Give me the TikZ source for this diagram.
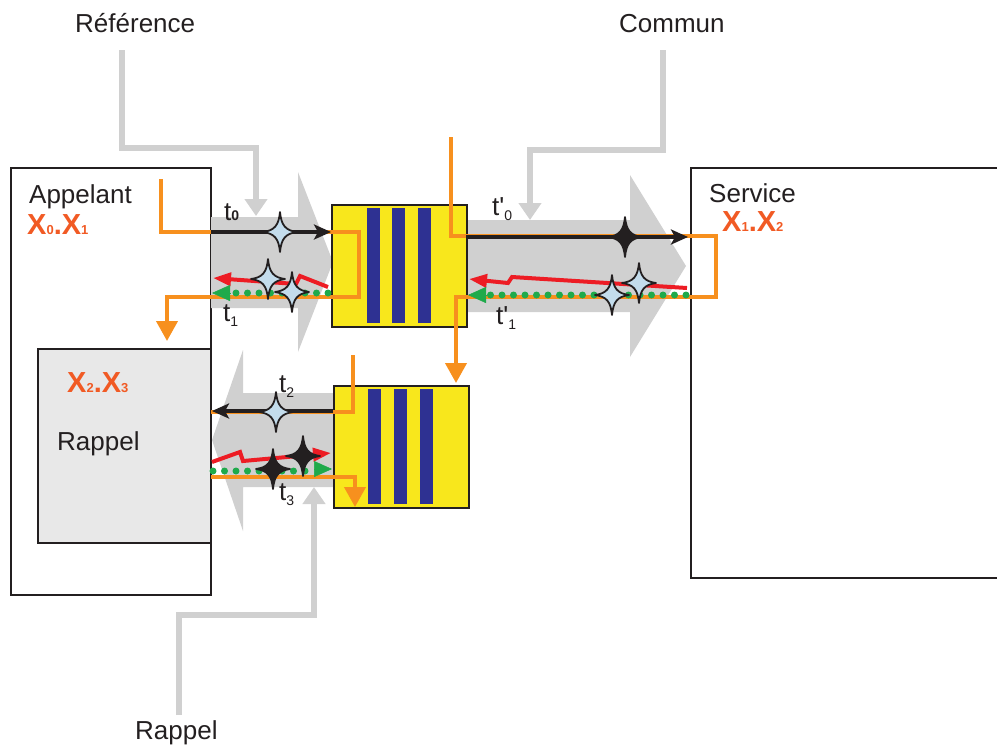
\documentclass[tikz,border=0pt]{standalone}
\usepackage{fontspec}
\setmainfont{Liberation Sans}
\usetikzlibrary{arrows.meta}
\definecolor{boxline}{HTML}{231F20}
\definecolor{orng}{HTML}{F7901E}
\definecolor{xorng}{HTML}{F15A24}
\definecolor{fatgray}{HTML}{D0D0D0}
\definecolor{innergray}{HTML}{E8E8E8}
\definecolor{ylw}{HTML}{F8E71C}
\definecolor{blu}{HTML}{2E3192}
\definecolor{grn}{HTML}{1FAA4B}
\definecolor{rd}{HTML}{ED1C24}
\definecolor{starblue}{HTML}{C3DCEC}
\tikzset{
  box/.style={draw=boxline, line width=1.8pt, inner sep=0pt, anchor=north west},
  ybox/.style={box, fill=ylw, minimum width=135pt, minimum height=122pt},
  fatarrow/.style={fill=fatgray, draw=none},
  routeline/.style={draw=fatgray, line width=6.5pt, -{Triangle[length=17pt,width=22pt]}},
  orangeline/.style={draw=orng, line width=4pt},
  orangearrow/.style={orangeline, -{Triangle[length=20pt,width=21pt]}},
  blackarrow/.style={draw=boxline, line width=3.2pt, -{Stealth[length=17pt,width=15pt,inset=4pt]}},
  greendots/.style={draw=grn, line width=7pt, line cap=round, dash pattern=on 0pt off 11.5pt},
  greentip/.style={draw=grn, fill=grn, line width=0.5pt, -{Triangle[length=18pt,width=16pt]}},
  redbolt/.style={draw=rd, line width=4pt, line join=miter, -{Triangle[length=18pt,width=13pt]}},
  lbl/.style={font=\fontsize{26}{30}\selectfont, inner sep=0pt, anchor=base west, text=boxline},
  xl/.style={font=\fontsize{29}{32}\selectfont\bfseries, inner sep=0pt, anchor=base west, text=xorng},
  tl/.style={font=\fontsize{26}{30}\selectfont, inner sep=0pt, anchor=base west, text=boxline},
  starline/.style={draw=boxline, line width=1.8pt, line join=round},
  sparkshape/.pic={
    \path[pic actions] (0,20) .. controls (1.3,6.5) and (5.5,1.6) .. (17,0)
      .. controls (5.5,-1.6) and (1.3,-6.5) .. (0,-20)
      .. controls (-1.3,-6.5) and (-5.5,-1.6) .. (-17,0)
      .. controls (-5.5,1.6) and (-1.3,6.5) .. (0,20) -- cycle;
  },
  lstar/.style={starline, fill=starblue},
  dstar/.style={starline, fill=boxline},
}
\newcommand{\subsmall}[1]{\raisebox{-5pt}{\fontsize{14}{14}\selectfont #1}}
\begin{document}
\begin{tikzpicture}[x=1pt,y=-1pt]
\useasboundingbox (0,0) rectangle (997,748);

% main boxes
\node[box, minimum width=200pt, minimum height=427pt] (app) at (10,167) {};
\node[box, minimum width=330pt, minimum height=410pt] (srv) at (690,167) {};
\node[box, fill=innergray, minimum width=173pt, minimum height=194pt] (rap) at (37,348) {};

% fat gray arrows
\fill[fatarrow] (211,217) -- (298,217) -- (298,172) -- (333,262) -- (298,352) -- (298,308) -- (211,308) -- cycle;
\fill[fatarrow] (466,220) -- (630,220) -- (630,175) -- (686,266) -- (630,357) -- (630,312) -- (466,312) -- cycle;
\fill[fatarrow] (334,393) -- (243,393) -- (243,350) -- (212,440) -- (243,531) -- (243,487) -- (334,487) -- cycle;

% gray routing lines
\coordinate (refs) at (122,50);
\coordinate (refe) at (256,216);
\coordinate (coms) at (663,50);
\coordinate (come) at (530,220);
\coordinate (raps) at (179,715);
\coordinate (rape) at (314,487);
\draw[routeline] (refs) |- (256,148) -- (refe);
\draw[routeline] (coms) |- (530,150) -- (come);
\draw[routeline] (raps) |- (314,615) -- (rape);

% yellow queue boxes
\node[ybox] (q1) at (331,204) {};
\node[ybox] (q2) at (333,385) {};
\fill[blu] (367,208) rectangle (380,323);
\fill[blu] (392,208) rectangle (405,323);
\fill[blu] (418,208) rectangle (431,323);
\fill[blu] (368,389) rectangle (381,504);
\fill[blu] (394,389) rectangle (407,504);
\fill[blu] (420,389) rectangle (433,504);

% orange flow lines
\coordinate (o1s) at (161,179);
\coordinate (o1e) at (167,341);
\coordinate (o2s) at (451,137);
\coordinate (o2e) at (456,383);
\coordinate (o3s) at (353,355);
\coordinate (o3e) at (211,412);
\coordinate (o4s) at (211,477);
\coordinate (o4e) at (355,507);
\draw[orangearrow] (o1s) -- (161,232) -- (359,232) -- (359,297) -- (167,297) -- (o1e);
\draw[orangearrow] (o2s) -- (451,236) -- (716,236) -- (716,297) -- (456,297) -- (o2e);
\draw[orangeline] (o3s) -- (353,412) -- (o3e);
\draw[orangearrow] (o4s) -- (355,477) -- (o4e);

% black message arrows
\coordinate (b0s) at (211,232);
\coordinate (b0e) at (331,232);
\coordinate (b1s) at (466,237);
\coordinate (b1e) at (688,237);
\coordinate (b2s) at (333,411);
\coordinate (b2e) at (212,411);
\draw[blackarrow] (b0s) -- (b0e);
\draw[blackarrow] (b1s) -- (b1e);
\draw[blackarrow] (b2s) -- (b2e);

% red lightning arrows
\draw[redbolt] (328,287) -- (300,276) -- (296,284) -- (213,278);
\draw[redbolt] (687,288) -- (512,277) -- (508,283) -- (469,279);
\draw[redbolt] (212,462) -- (240,452) -- (243,461) -- (331,453);

% green dotted arrows
\coordinate (g0s) at (328,293);
\coordinate (g0e) at (212,293);
\coordinate (g1s) at (686,295);
\coordinate (g1e) at (468,295);
\coordinate (g2s) at (213,471);
\coordinate (g2e) at (332,469);
\draw[greendots] (g0s) -- (234,293);
\draw[greentip] (230,293) -- (g0e);
\draw[greendots] (g1s) -- (490,295);
\draw[greentip] (486,295) -- (g1e);
\draw[greendots] (g2s) -- (310,471);
\draw[greentip] (314,469) -- (g2e);

% stars
\pic[lstar] at (280,232) {sparkshape};
\pic[lstar] at (268,279) {sparkshape};
\pic[lstar] at (292,292) {sparkshape};
\pic[dstar] at (625,237) {sparkshape};
\pic[lstar] at (639,283) {sparkshape};
\pic[lstar] at (612,295) {sparkshape};
\pic[lstar] at (276,412) {sparkshape};
\pic[dstar] at (303,456) {sparkshape};
\pic[dstar] at (273,469) {sparkshape};

% texts
\node[lbl] (lref) at (75,32) {Référence};
\node[lbl] (lcom) at (619,32) {Commun};
\node[lbl] (lrapb) at (135,739) {Rappel};
\node[lbl] (lapp) at (29,203) {Appelant};
\node[lbl] (lsrv) at (709,202) {Service};
\node[lbl] (lrap) at (57,450) {Rappel};
\node[xl] (x01) at (27,234) {X{\fontsize{13}{13}\selectfont 0}.X{\fontsize{13}{13}\selectfont 1}};
\node[xl] (x23) at (67,392) {X{\fontsize{13}{13}\selectfont 2}.X{\fontsize{13}{13}\selectfont 3}};
\node[xl] (x12) at (722,231) {X{\fontsize{13}{13}\selectfont 1}.X{\fontsize{13}{13}\selectfont 2}};
\node[tl] (t0) at (224,220) {t{\fontsize{14}{14}\selectfont\bfseries 0}};
\node[tl] (t1) at (223,321) {t\subsmall{1}};
\node[tl] (tp0) at (492,215) {t\textquotesingle\subsmall{0}};
\node[tl] (tp1) at (496,324) {t\textquotesingle\subsmall{1}};
\node[tl] (t2) at (279,392) {t\subsmall{2}};
\node[tl] (t3) at (279,500) {t\subsmall{3}};
\end{tikzpicture}
\end{document}
